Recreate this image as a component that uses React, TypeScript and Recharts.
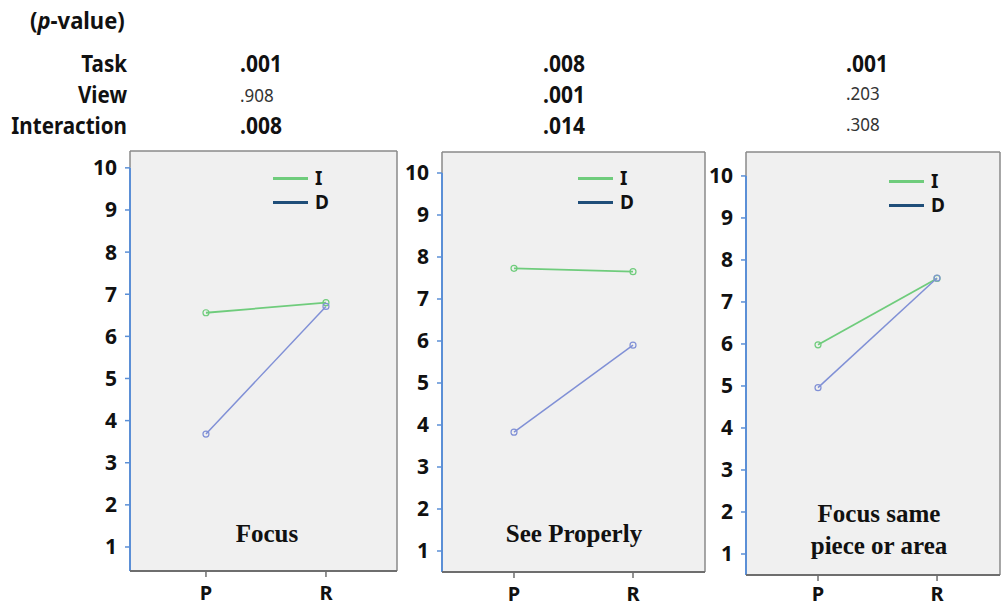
import React from 'react';
import { LineChart, Line, XAxis, YAxis, ReferenceLine, ReferenceArea, Legend } from 'recharts';

const categories = ['P', 'R'];
const seriesNames = ['I', 'D'];
const focusI = [6.56, 6.8];
const focusD = [3.68, 6.71];
const seeI = [7.73, 7.65];
const seeD = [3.83, 5.9];
const sameI = [5.98, 7.56];
const sameD = [4.96, 7.57];
const yTicks = [1, 2, 3, 4, 5, 6, 7, 8, 9, 10];
const panelTitles = [['Focus'], ['See Properly'], ['Focus same', 'piece or area']];
const effectLabels = ['Task', 'View', 'Interaction'];
const pValues = [
  ['.001', '.908', '.008'],
  ['.008', '.001', '.014'],
  ['.001', '.203', '.308'],
];
const pBold = [
  [true, false, true],
  [true, true, true],
  [true, false, false],
];

const SANS = '"Noto Sans", "Open Sans", sans-serif';
const SERIF = '"Liberation Serif", "DejaVu Serif", serif';
const lineColors = ['#6fcc7c', '#8090d6'];
const legendColors = ['#6fcc7c', '#1f4e79'];
const BLUE = '#5b8fd6';
const GRAY = '#8a8a8a';

type PanelCfg = {
  I: number[];
  D: number[];
  box: [number, number, number, number];
  xDomain: [number, number];
  yDomain: [number, number];
  legend: [number, number];
  xTickGap: number;
};

const panels: PanelCfg[] = [
  { I: focusI, D: focusD, box: [130, 151, 397, 571], xDomain: [-0.633, 1.592], yDomain: [0.43, 10.4], legend: [193, 25], xTickGap: 9 },
  { I: seeI, D: seeD, box: [442, 152, 705, 572], xDomain: [-0.605, 1.605], yDomain: [0.5, 10.5], legend: [186, 24], xTickGap: 9 },
  { I: sameI, D: sameD, box: [746, 152, 1000, 575], xDomain: [-0.605, 1.529], yDomain: [0.5, 10.57], legend: [193, 27], xTickGap: 6 },
];

const LegendBox = () => (
  <div style={{ fontFamily: SANS, fontWeight: 700, fontSize: 19, color: '#111' }}>
    {seriesNames.map((n, i) => (
      <div key={n} style={{ display: 'flex', alignItems: 'center', height: 24 }}>
        <div style={{ width: 35, height: 3, background: legendColors[i] }} />
        <span style={{ marginLeft: 7, lineHeight: '24px' }}>{n}</span>
      </div>
    ))}
  </div>
);

const Panel = ({ cfg }: { cfg: PanelCfg }) => {
  const [bl, bt, br, bb] = cfg.box;
  const w = br - bl + 60;
  const h = bb - bt + 52;
  const data = categories.map((c, i) => ({ x: i, cat: c, I: cfg.I[i], D: cfg.D[i] }));
  const [x0, x1] = cfg.xDomain;
  const [y0, y1] = cfg.yDomain;
  return (
    <div style={{ position: 'absolute', left: bl - 50, top: bt - 10 }}>
      <LineChart width={w} height={h} data={data} margin={{ top: 10, right: 10, bottom: 0, left: 10 }}>
        <ReferenceArea x1={x0} x2={x1} y1={y0} y2={y1} fill="#f0f0f0" fillOpacity={1} stroke="none" ifOverflow="visible" />
        <XAxis
          type="number"
          dataKey="x"
          domain={cfg.xDomain}
          ticks={[0, 1]}
          allowDataOverflow
          tickFormatter={(v: number) => categories[v]}
          axisLine={{ stroke: '#6e6e6e', strokeWidth: 2 }}
          tickLine={{ stroke: '#6e6e6e', strokeWidth: 1.5 }}
          tickSize={6}
          tickMargin={cfg.xTickGap}
          height={42}
          tick={{ fill: '#111', fontSize: 20, fontWeight: 700, fontFamily: SANS }}
        />
        <YAxis
          type="number"
          domain={cfg.yDomain}
          ticks={yTicks}
          allowDataOverflow
          axisLine={false}
          tickLine={{ stroke: BLUE, strokeWidth: 1.5 }}
          tickSize={5}
          tickMargin={8}
          width={40}
          tick={{ fill: '#111', fontSize: 21, fontWeight: 700, fontFamily: SANS }}
        />
        <ReferenceLine segment={[{ x: x0, y: y1 }, { x: x1, y: y1 }]} stroke={GRAY} strokeWidth={1.5} ifOverflow="visible" />
        <ReferenceLine segment={[{ x: x1, y: y0 }, { x: x1, y: y1 }]} stroke={GRAY} strokeWidth={1.5} ifOverflow="visible" />
        <ReferenceLine segment={[{ x: x0, y: 10 }, { x: x0, y: y1 }]} stroke={GRAY} strokeWidth={1.5} ifOverflow="visible" />
        <ReferenceLine segment={[{ x: x0, y: y0 }, { x: x0, y: 10 }]} stroke={BLUE} strokeWidth={2} ifOverflow="visible" />
        <Legend
          layout="horizontal"
          verticalAlign="middle"
          align="center"
          content={() => <LegendBox />}
          wrapperStyle={{ left: cfg.legend[0], top: cfg.legend[1], width: 'auto', height: 'auto', right: 'auto', bottom: 'auto' }}
        />
        <Line
          dataKey="I"
          stroke={lineColors[0]}
          strokeWidth={1.8}
          dot={{ r: 3, fill: 'none', stroke: lineColors[0], strokeWidth: 1.2 }}
          isAnimationActive={false}
          legendType="line"
        />
        <Line
          dataKey="D"
          stroke={lineColors[1]}
          strokeWidth={1.5}
          dot={{ r: 3, fill: 'none', stroke: lineColors[1], strokeWidth: 1.2 }}
          isAnimationActive={false}
          legendType="line"
        />
      </LineChart>
    </div>
  );
};

const titleCenters = [267, 574, 879];
const titleBaselines = [[542], [542], [522, 554]];
const colX = [240, 543, 846];
const rowBaselines = [72, 103, 134];
const SY = 1.13;

export default function App() {
  return (
    <div style={{ position: 'absolute', left: 0, top: 0, width: 1004, height: 607, overflow: 'hidden', background: '#fff' }}>
      {panels.map((p, i) => (
        <Panel key={i} cfg={p} />
      ))}
      <svg width={1004} height={607} style={{ position: 'absolute', left: 0, top: 0, pointerEvents: 'none' }}>
        <text transform={`translate(30,29) scale(1,1.08)`} fontFamily={SANS} fontWeight={700} fontSize={22} fill="#111">
          (<tspan fontStyle="italic">p</tspan>-value)
        </text>
        {effectLabels.map((l, r) => (
          <text
            key={l}
            transform={`translate(127,${rowBaselines[r]}) scale(0.98,${SY})`}
            textAnchor="end"
            fontFamily={SANS}
            fontWeight={700}
            fontSize={21}
            fill="#111"
          >
            {l}
          </text>
        ))}
        {pValues.map((col, c) =>
          col.map((v, r) => {
            const b = pBold[c][r];
            const y = b ? rowBaselines[r] : rowBaselines[r] - (c === 2 ? 3 : 1);
            return (
              <text
                key={c + '-' + r}
                transform={`translate(${colX[c]},${y}) scale(1,${b ? SY : 1.1})`}
                fontFamily={SANS}
                fontWeight={b ? 700 : 400}
                fontSize={b ? 21 : 17}
                fill={b ? '#111' : '#333'}
              >
                {v}
              </text>
            );
          })
        )}
        {panelTitles.map((lines, i) =>
          lines.map((t, j) => (
            <text
              key={i + '-' + j}
              x={titleCenters[i]}
              y={titleBaselines[i][j]}
              textAnchor="middle"
              fontFamily={SERIF}
              fontWeight={700}
              fontSize={25}
              fill="#111"
            >
              {t}
            </text>
          ))
        )}
      </svg>
    </div>
  );
}
